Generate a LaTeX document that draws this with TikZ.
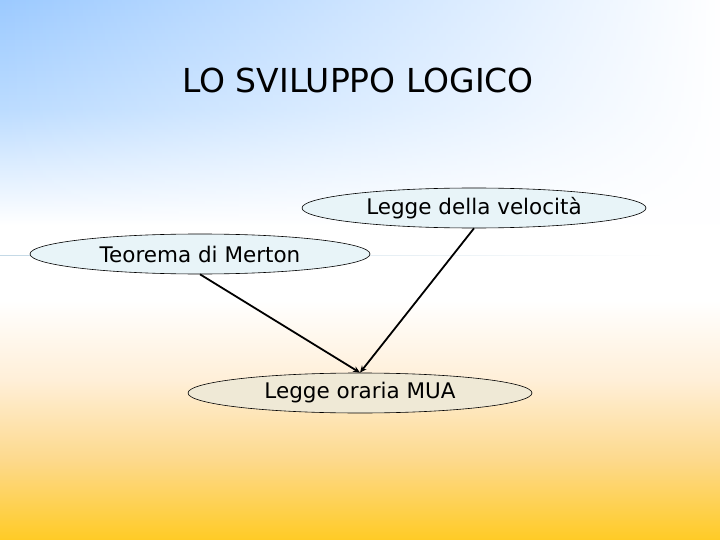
\documentclass[tikz,border=0pt]{standalone}
\usepackage{fontspec}
\setmainfont{DejaVu Sans}
\usetikzlibrary{shapes.geometric,arrows.meta,fadings}
\definecolor{skytop}{HTML}{9CCAFF}
\definecolor{skymid}{HTML}{BCDCFF}
\definecolor{peach}{HTML}{FFEFD8}
\definecolor{sand}{HTML}{FDD98C}
\definecolor{gold}{HTML}{FFCB25}
\definecolor{ice}{HTML}{E8F4F8}
\definecolor{cream}{HTML}{EFE9D6}
\definecolor{rule}{HTML}{C4D9E6}
\tikzfading[name=fadeleft, left color=transparent!100, right color=transparent!0]
\tikzfading[name=faderight, left color=transparent!0, right color=transparent!100]
\tikzset{
  idea/.style={draw=black, line width=0.6pt, ellipse, inner sep=0pt,
    minimum width=344pt, minimum height=40pt, font=\fontsize{21.5}{26}\selectfont},
  link/.style={draw=black, line width=1.8pt, -{Stealth[length=7pt,width=6pt]}}
}

\begin{document}
\begin{tikzpicture}[x=1pt,y=-1pt]
      % background
      \useasboundingbox (0,0) rectangle (720,540);
      \shade[top color=skytop, bottom color=skymid] (0,0) rectangle (720,110);
      \shade[top color=skymid, bottom color=white] (0,110) rectangle (720,225);
      \fill[white] (0,225) rectangle (720,300);
      \shade[top color=white, bottom color=peach] (0,300) rectangle (720,380);
      \shade[top color=peach, bottom color=sand] (0,380) rectangle (720,460);
      \shade[top color=sand, bottom color=gold] (0,460) rectangle (720,540);
      \fill[white, path fading=fadeleft] (0,0) rectangle (720,240);

      \coordinate (rulel) at (0,255);
      \coordinate (ruler) at (660,255);
      \draw[rule, line width=1pt, path fading=faderight] (rulel) -- (ruler);

      \path
      (358,80) node(title) {\fontsize{33}{40}\selectfont LO SVILUPPO LOGICO}
      (474,208) node[idea, fill=ice](vel) {Legge della velocità}
      (200,254) node[idea, fill=ice, minimum width=340pt](merton) {Teorema di Merton}
      (360,393) node[idea, fill=cream](mua) {Legge oraria MUA}
      ;

      \draw[link] (merton.south) -- (mua.north);
      \draw[link] (vel.south) -- (mua.north);
    \end{tikzpicture}
\end{document}
